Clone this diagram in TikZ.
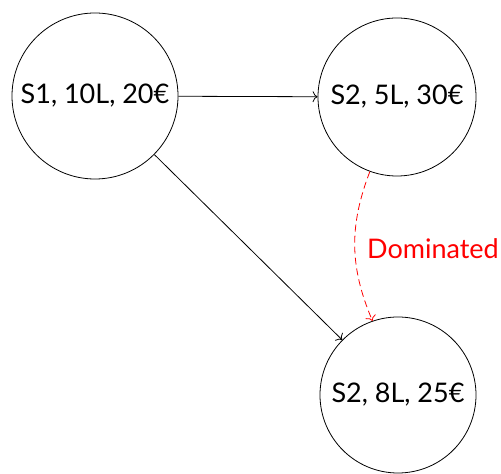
\documentclass[tikz,border=0pt]{standalone}
\usepackage{fontspec}
\setmainfont{Lato}
\usetikzlibrary{arrows.meta}
\begin{document}
\begin{tikzpicture}[x=1pt,y=1pt,
  txt/.style={font=\fontsize{27}{32}\selectfont},
  state/.style={draw,circle,line width=0.8pt,inner sep=0pt,txt},
  tip/.style={-{To[length=5pt,width=11pt,line width=0.8pt]}},
  conn/.style={tip,line width=0.8pt},
  dom/.style={tip,red,line width=0.8pt,dash pattern=on 7pt off 4pt}]
\useasboundingbox (0,0) rectangle (501,474);
\node[state,minimum size=166pt] (a) at (95,378) {S1, 10L, 20€};
\node[state,minimum size=158pt] (b) at (397,377) {S2, 5L, 30€};
\node[state,minimum size=156pt] (c) at (398,79) {S2, 8L, 25€};
\draw[conn] (a) -- (b);
\draw[conn] (a) -- (c);
\draw[dom] (b.-110) to[bend right=22] node[pos=0.5,right,inner sep=3pt,xshift=9pt,yshift=-2pt,txt] (lbl) {Dominated} (c.109);
\end{tikzpicture}
\end{document}
